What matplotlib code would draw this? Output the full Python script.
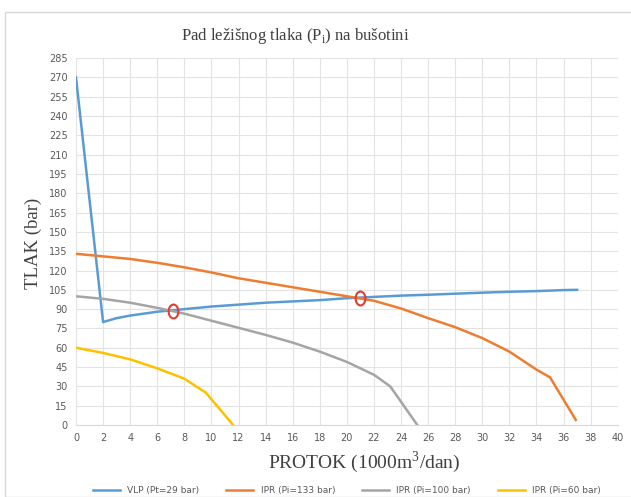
import matplotlib.pyplot as plt
from matplotlib.patches import Rectangle
from matplotlib.path import Path
from matplotlib.transforms import Affine2D

# VLP curve (Pt=29 bar)
vlp_q = [0, 2, 3, 4, 6, 8, 10, 12, 14, 16, 18, 20, 22, 24, 26, 28, 30, 32, 34, 36, 37]
vlp_p = [270, 80, 83, 85, 88, 90, 92, 93.5, 95, 96, 97, 98.5, 99.5, 100.5, 101.2, 102, 102.8, 103.5, 104, 104.8, 105]

# IPR curves
ipr133_q = [0, 2, 4, 6, 8, 10, 12, 14, 16, 18, 20, 22, 24, 26, 28, 30, 32, 34, 35, 36.9]
ipr133_p = [133, 131, 129, 126, 122.5, 118.5, 114, 110.5, 107, 103.5, 100, 96.5, 90.5, 83, 76, 67.5, 57, 43, 37, 4]

ipr100_q = [0, 2, 4, 6, 8, 10, 12, 14, 16, 18, 20, 22, 23.2, 25.2]
ipr100_p = [100, 98, 95, 91, 86.5, 81, 75.5, 70, 64, 57, 49, 39, 30, 0]

ipr60_q = [0, 2, 4, 6, 8, 9.6, 11.6]
ipr60_p = [60, 56, 51, 44, 36, 25, 0]

# operating points
op_q = [7.2, 21.0]
op_p = [88.5, 99.0]

labels = ['VLP (Pt=29 bar)', 'IPR (Pi=133 bar)', 'IPR (Pi=100 bar)', 'IPR (Pi=60 bar)']
colors = ['#5B9BD5', '#ED7D31', '#A5A5A5', '#FFC000']

fig = plt.figure(figsize=(6.31, 4.97), dpi=100)
fig.patches.append(Rectangle((5 / 631, 0), 1, 1 - 12 / 497, transform=fig.transFigure,
                             fill=False, edgecolor='#D9D9D9', linewidth=1.0))
ax = fig.add_axes([0.1204, 0.1449, 0.8586, 0.7381])

ax.plot(vlp_q, vlp_p, color=colors[0], linewidth=1.8, label=labels[0])
ax.plot(ipr133_q, ipr133_p, color=colors[1], linewidth=1.8, label=labels[1])
ax.plot(ipr100_q, ipr100_p, color=colors[2], linewidth=1.8, label=labels[2])
ax.plot(ipr60_q, ipr60_p, color=colors[3], linewidth=1.8, label=labels[3])

# tall oval marker, like a "0"
oval = Path.unit_circle().transformed(Affine2D().scale(0.7, 1.0))
ax.plot(op_q, op_p, linestyle='none', marker=oval, markersize=10, markerfacecolor='none',
        markeredgecolor='#E03C31', markeredgewidth=1.5)

ax.set_xlim(0, 40)
ax.set_ylim(0, 285)
ax.set_xticks(range(0, 41, 2))
ax.set_yticks(range(0, 286, 15))
ax.tick_params(labelsize=7, colors='#595959', length=0, pad=6)
ax.grid(color='#E3E3E3', linewidth=0.8)
ax.set_axisbelow(True)
for s in ['top', 'right', 'left']:
    ax.spines[s].set_visible(False)
ax.spines['bottom'].set_color('#D9D9D9')

fig.text(295 / 631, 1 - 36 / 497, 'Pad ležišnog tlaka (P$_\\mathregular{i}$) na bušotini',
         family='Liberation Serif', fontsize=12, color='#404040', ha='center', va='center')
fig.text(364 / 631, 1 - 462 / 497, 'PROTOK (1000m$^\\mathregular{3}$/dan)',
         family='Liberation Serif', fontsize=14, color='#404040', ha='center', va='center')
fig.text(33 / 631, 1 - 243 / 497, 'TLAK (bar)', family='Liberation Serif', fontsize=13.5,
         color='#404040', ha='center', va='center', rotation=90)

ax.legend(loc='upper center', bbox_to_anchor=(0.5, -0.145), ncol=4, frameon=False,
          fontsize=6.5, labelcolor='#595959', handlelength=3, columnspacing=3)

fig.savefig('out.png', dpi=100)
